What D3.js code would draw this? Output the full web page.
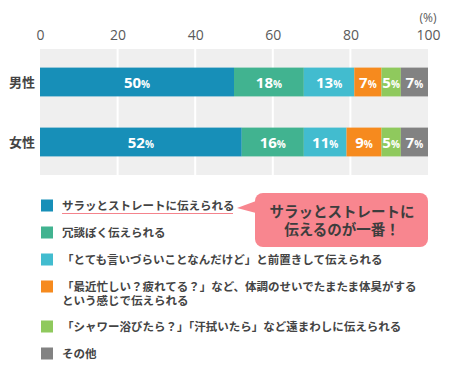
<!DOCTYPE html>
<html><head><meta charset="utf-8">
<script src="https://cdn.jsdelivr.net/npm/d3@7"></script>
<style>body{margin:0;background:#fff;} svg{display:block;font-family:"Noto Sans CJK JP","Noto Sans",sans-serif;}</style>
</head><body>
<script>
const categories = ["男性", "女性"];
const seriesNames = [
  "サラッとストレートに伝えられる",
  "冗談ぽく伝えられる",
  "「とても言いづらいことなんだけど」と前置きして伝えられる",
  "「最近忙しい？疲れてる？」など、体調のせいでたまたま体臭がする\nという感じで伝えられる",
  "「シャワー浴びたら？」「汗拭いたら」など遠まわしに伝えられる",
  "その他"
];
const maleValues = [50, 18, 13, 7, 5, 7];
const femaleValues = [52, 16, 11, 9, 5, 7];
const colors = ["#178fb8", "#41b390", "#42bccf", "#f68a1e", "#8fc95d", "#828282"];
const ticks = [0, 20, 40, 60, 80, 100];
const calloutLines = ["サラッとストレートに", "伝えるのが一番！"];

const W = 450, H = 383;
const svg = d3.select("body").append("svg").attr("width", W).attr("height", H);
const multiFont = "'Liberation Sans','Noto Sans CJK JP',sans-serif";

const x = d3.scaleLinear().domain([0, 100]).range([40, 428]);
const y = d3.scaleBand().domain(categories).range([52, 172]).paddingInner(0.52).paddingOuter(0.26);

// background
svg.append("rect").attr("x", x(0)).attr("y", 49).attr("width", x(100) - x(0)).attr("height", 126).attr("fill", "#efefef");
svg.selectAll("line.grid").data(ticks.slice(1, -1)).enter().append("line")
  .attr("x1", d => x(d)).attr("x2", d => x(d)).attr("y1", 49).attr("y2", 175)
  .attr("stroke", "#fff").attr("stroke-width", 2);

// axis ticks
const axis = d3.axisTop(x).tickValues(ticks).tickSize(0).tickPadding(0);
const ag = svg.append("g").attr("transform", "translate(0,40)").call(axis);
ag.select(".domain").remove();
ag.selectAll("text").attr("fill", "#5a5a5a").style("font-size", "14px").style("font-family", "'Open Sans','Noto Sans',sans-serif");
svg.append("text").attr("x", x(100)).attr("y", 22).attr("text-anchor", "middle")
  .attr("fill", "#5a5a5a").style("font-size", "12px").style("font-family", "'Open Sans','Noto Sans',sans-serif").text("(%)");

// bars
const rows = [maleValues, femaleValues];
rows.forEach((vals, ri) => {
  let cum = 0;
  const g = svg.append("g");
  vals.forEach((v, i) => {
    const x0 = cum, x1 = cum + v; cum = x1;
    g.append("rect").attr("x", x(x0)).attr("y", y(categories[ri])).attr("width", x(x1) - x(x0))
      .attr("height", y.bandwidth()).attr("fill", colors[i]);
    const t = g.append("text").attr("x", (x(x0) + x(x1)) / 2).attr("y", y(categories[ri]) + y.bandwidth() / 2 + 5.5)
      .attr("text-anchor", "middle").attr("fill", "#fff").attr("font-weight", "bold")
      .style("font-family", "'Open Sans','Noto Sans',sans-serif");
    t.append("tspan").style("font-size", "15px").text(v);
    t.append("tspan").style("font-size", "10px").text("%");
  });
  svg.append("text").attr("x", 35).attr("y", y(categories[ri]) + y.bandwidth() / 2 + 5)
    .attr("text-anchor", "end").attr("fill", "#444").attr("font-weight", "bold").style("font-size", "13px").text(categories[ri]);
});

// legend
const legY = [206, 233, 260, 287, 327, 354];
seriesNames.forEach((name, i) => {
  svg.append("rect").attr("x", 41).attr("y", legY[i] - 6.5).attr("width", 12).attr("height", 12).attr("fill", colors[i]);
  const t = svg.append("text").attr("x", 62).attr("y", legY[i] + 4)
    .attr("fill", "#444").attr("font-weight", "bold").style("font-size", "11.5px").style("font-family", multiFont);
  name.split("\n").forEach((ln, j) => {
    t.append("tspan").attr("x", 62).attr("dy", j === 0 ? 0 : 13.7).text(ln);
  });
});
// underline first item
svg.append("line").attr("x1", 62).attr("x2", 233).attr("y1", 213.5).attr("y2", 213.5).attr("stroke", "#f4838c").attr("stroke-width", 1);

// callout
const cg = svg.append("g");
cg.append("rect").attr("x", 255).attr("y", 193).attr("width", 173).attr("height", 54).attr("rx", 8).attr("fill", "#f8868f");
cg.append("path").attr("d", "M256,201 L237,208 L256,213 Z").attr("fill", "#f8868f");
const ct = cg.append("text").attr("x", 342).attr("y", 217).attr("text-anchor", "middle")
  .attr("fill", "#3d3d3d").attr("font-weight", "bold").style("font-size", "14.5px").style("font-family", multiFont);
calloutLines.forEach((ln, j) => {
  ct.append("tspan").attr("x", 342).attr("dy", j === 0 ? 0 : 18.3).text(ln);
});
</script>
</body></html>
